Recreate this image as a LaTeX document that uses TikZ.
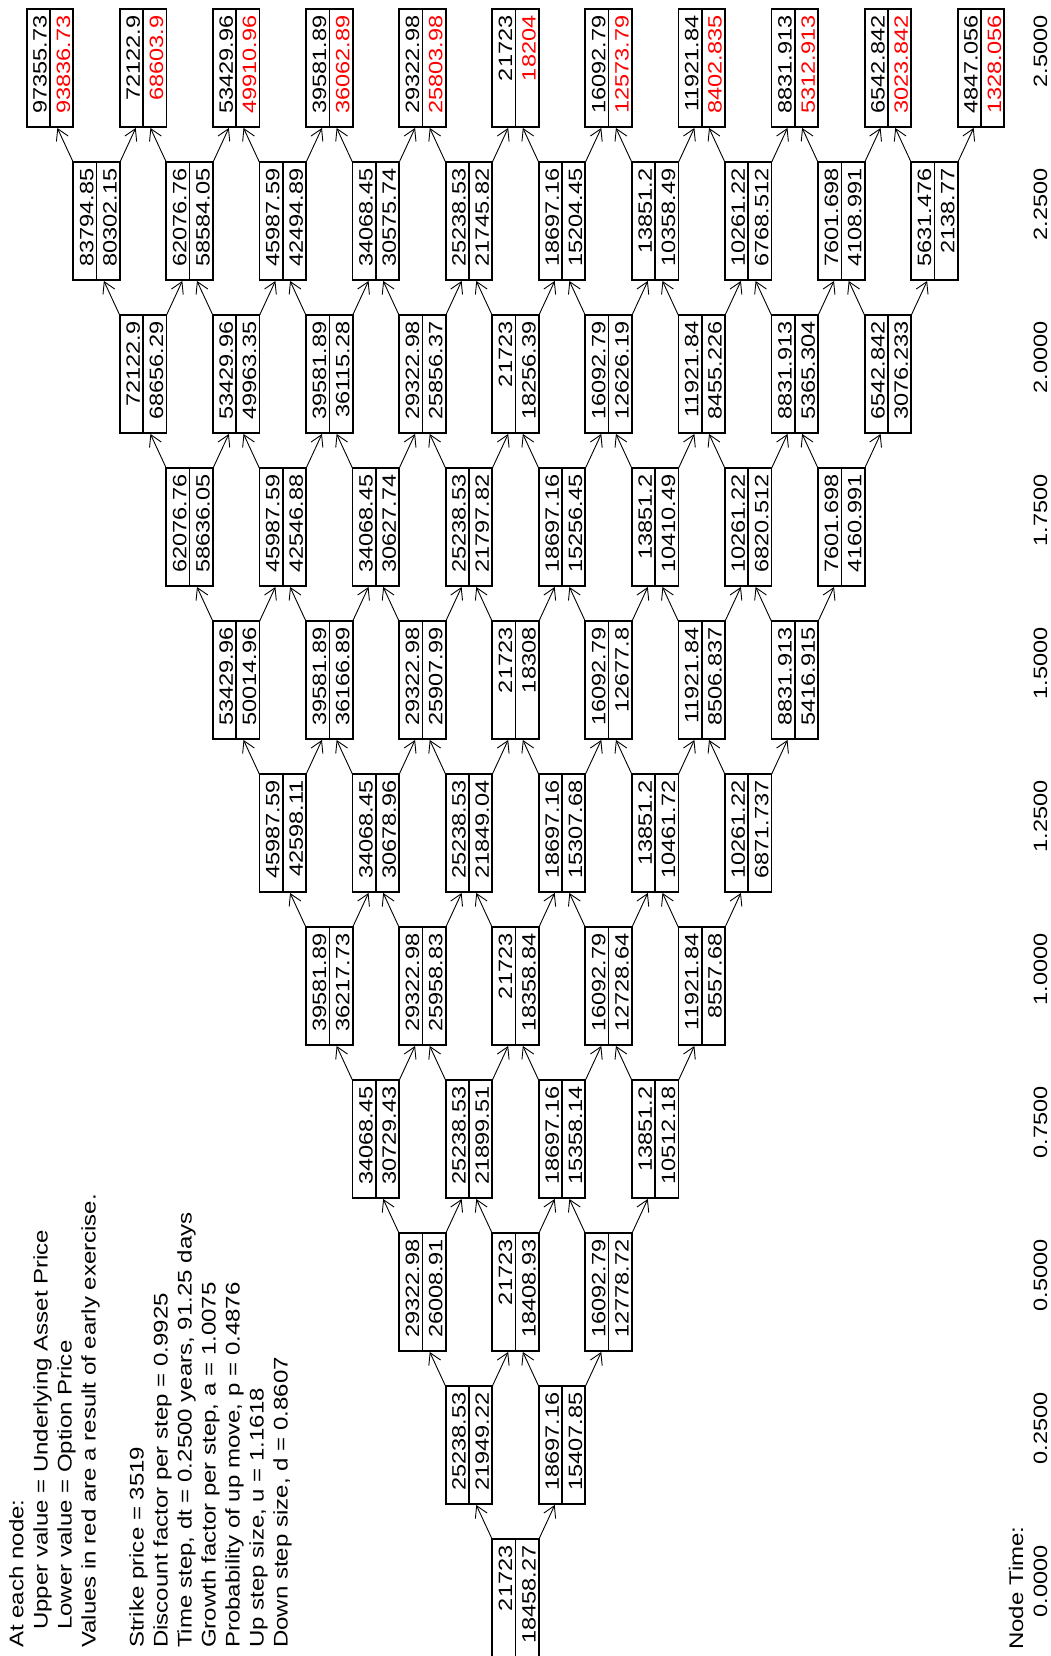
\documentclass[tikz,border=0pt]{standalone}
\usepackage{fontspec}
\setmainfont{Liberation Sans}[FakeStretch=1.22]
\usetikzlibrary{arrows.meta,calc}
\newcommand{\vfont}{\fontsize{19.3}{24}\selectfont}
\newcommand{\ifont}{\fontsize{19.7}{24}\selectfont}
\tikzset{
  tbox/.style={draw=black, line width=1.8pt, minimum width=46.6pt, minimum height=117.3pt, inner sep=0pt, outer sep=0pt},
  divline/.style={draw=black, line width=1.6pt},
  val/.style={rotate=90, anchor=base east, inner sep=0pt, font=\vfont},
  infotext/.style={rotate=90, anchor=base west, inner sep=0pt, font=\ifont},
  arr/.style={draw=black, line width=0.9pt, -{Straight Barb[length=11pt,width=13pt,line width=0.9pt]}, shorten >=1.5pt}
}
\newcommand{\tn}[5]{%
  \node[tbox] (n#1-#2) at ({50+46.55*(10-#1)+93.1*#2}, {1588-153*(10-#1)}) {};
  \draw[divline] (n#1-#2.north) -- (n#1-#2.south);
  \node[val] (n#1-#2u) at ($(n#1-#2.north)+(-3.3,-6)$) {#3};
  \node[val, text=#5] (n#1-#2l) at ($(n#1-#2.north east)+(-3.3,-6)$) {#4};
}
\begin{document}
\begin{tikzpicture}[x=1pt,y=1pt]
\path[fill=white, use as bounding box] (0,0) rectangle (1051,1656);
% info text
\node[infotext] (i0) at (23.5,8) {At each node:};
\node[infotext] (i1) at (47.5,26) {Upper value = Underlying Asset Price};
\node[infotext] (i2) at (71.5,26) {Lower value = Option Price};
\node[infotext] (i3) at (95.5,8) {Values in red are a result of early exercise.};
\node[infotext] (i5) at (143.5,8) {Strike price = 3519};
\node[infotext] (i6) at (167.5,8) {Discount factor per step = 0.9925};
\node[infotext] (i7) at (191.5,8) {Time step, dt = 0.2500 years, 91.25 days};
\node[infotext] (i8) at (215.5,8) {Growth factor per step, a = 1.0075};
\node[infotext] (i9) at (239.5,8) {Probability of up move, p = 0.4876};
\node[infotext] (i10) at (263.5,8) {Up step size, u = 1.1618};
\node[infotext] (i11) at (287.5,8) {Down step size, d = 0.8607};
% tree
\tn{0}{0}{21723}{18458.27}{black}
\tn{1}{0}{25238.53}{21949.22}{black}
\tn{1}{1}{18697.16}{15407.85}{black}
\tn{2}{0}{29322.98}{26008.91}{black}
\tn{2}{1}{21723}{18408.93}{black}
\tn{2}{2}{16092.79}{12778.72}{black}
\tn{3}{0}{34068.45}{30729.43}{black}
\tn{3}{1}{25238.53}{21899.51}{black}
\tn{3}{2}{18697.16}{15358.14}{black}
\tn{3}{3}{13851.2}{10512.18}{black}
\tn{4}{0}{39581.89}{36217.73}{black}
\tn{4}{1}{29322.98}{25958.83}{black}
\tn{4}{2}{21723}{18358.84}{black}
\tn{4}{3}{16092.79}{12728.64}{black}
\tn{4}{4}{11921.84}{8557.68}{black}
\tn{5}{0}{45987.59}{42598.11}{black}
\tn{5}{1}{34068.45}{30678.96}{black}
\tn{5}{2}{25238.53}{21849.04}{black}
\tn{5}{3}{18697.16}{15307.68}{black}
\tn{5}{4}{13851.2}{10461.72}{black}
\tn{5}{5}{10261.22}{6871.737}{black}
\tn{6}{0}{53429.96}{50014.96}{black}
\tn{6}{1}{39581.89}{36166.89}{black}
\tn{6}{2}{29322.98}{25907.99}{black}
\tn{6}{3}{21723}{18308}{black}
\tn{6}{4}{16092.79}{12677.8}{black}
\tn{6}{5}{11921.84}{8506.837}{black}
\tn{6}{6}{8831.913}{5416.915}{black}
\tn{7}{0}{62076.76}{58636.05}{black}
\tn{7}{1}{45987.59}{42546.88}{black}
\tn{7}{2}{34068.45}{30627.74}{black}
\tn{7}{3}{25238.53}{21797.82}{black}
\tn{7}{4}{18697.16}{15256.45}{black}
\tn{7}{5}{13851.2}{10410.49}{black}
\tn{7}{6}{10261.22}{6820.512}{black}
\tn{7}{7}{7601.698}{4160.991}{black}
\tn{8}{0}{72122.9}{68656.29}{black}
\tn{8}{1}{53429.96}{49963.35}{black}
\tn{8}{2}{39581.89}{36115.28}{black}
\tn{8}{3}{29322.98}{25856.37}{black}
\tn{8}{4}{21723}{18256.39}{black}
\tn{8}{5}{16092.79}{12626.19}{black}
\tn{8}{6}{11921.84}{8455.226}{black}
\tn{8}{7}{8831.913}{5365.304}{black}
\tn{8}{8}{6542.842}{3076.233}{black}
\tn{9}{0}{83794.85}{80302.15}{black}
\tn{9}{1}{62076.76}{58584.05}{black}
\tn{9}{2}{45987.59}{42494.89}{black}
\tn{9}{3}{34068.45}{30575.74}{black}
\tn{9}{4}{25238.53}{21745.82}{black}
\tn{9}{5}{18697.16}{15204.45}{black}
\tn{9}{6}{13851.2}{10358.49}{black}
\tn{9}{7}{10261.22}{6768.512}{black}
\tn{9}{8}{7601.698}{4108.991}{black}
\tn{9}{9}{5631.476}{2138.77}{black}
\tn{10}{0}{97355.73}{93836.73}{red}
\tn{10}{1}{72122.9}{68603.9}{red}
\tn{10}{2}{53429.96}{49910.96}{red}
\tn{10}{3}{39581.89}{36062.89}{red}
\tn{10}{4}{29322.98}{25803.98}{red}
\tn{10}{5}{21723}{18204}{red}
\tn{10}{6}{16092.79}{12573.79}{red}
\tn{10}{7}{11921.84}{8402.835}{red}
\tn{10}{8}{8831.913}{5312.913}{red}
\tn{10}{9}{6542.842}{3023.842}{red}
\tn{10}{10}{4847.056}{1328.056}{red}
% connectors
\foreach \i in {0,...,9} {
  \foreach \j in {0,...,\i} {
    \pgfmathtruncatemacro{\ni}{\i+1}
    \pgfmathtruncatemacro{\nj}{\j+1}
    \draw[arr] (n\i-\j.north west) -- ($(n\ni-\j.south)+(6.7,0)$);
    \draw[arr] (n\i-\j.north east) -- ($(n\ni-\nj.south)+(-6.7,0)$);
  }
}
% time axis
\node[infotext] (nodetime) at (1023,6) {Node Time:};
\foreach \i/\t in {0/0.0000,1/0.2500,2/0.5000,3/0.7500,4/1.0000,5/1.2500,6/1.5000,7/1.7500,8/2.0000,9/2.2500,10/2.5000} {
  \node[val] (t\i) at (1047, {1588-153*(10-\i)+58.65-6}) {\t};
}
\end{tikzpicture}
\end{document}
